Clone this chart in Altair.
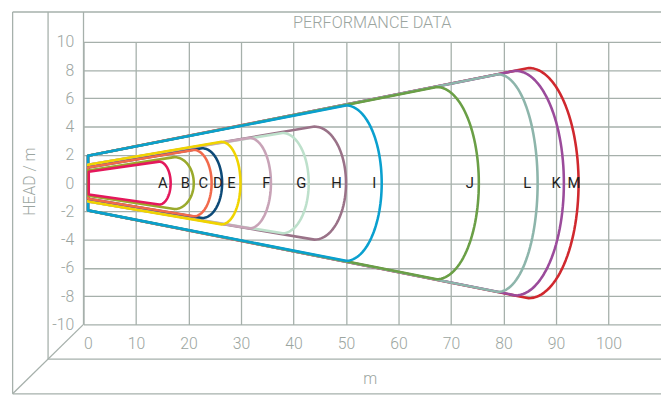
import numpy as np
import pandas as pd
import altair as alt

# ---- data ----
labels = ["A", "B", "C", "D", "E", "F", "G", "H", "I", "J", "K", "L", "M"]
colors = ["#e4185c", "#9aaa2c", "#f26a4c", "#0d4a78", "#f0d400", "#c8a3b7",
          "#bde0cb", "#9a7288", "#0aa0cf", "#6a9f46", "#9b4b9b", "#8db5ab", "#d0282e"]
x_left = [1.0, 0.9, 0.9, 0.9, 0.9, 0.9, 0.9, 0.9, 0.86, 0.86, 0.86, 0.86, 0.86]
a_left = [0.8, 0.9, 1.1, 1.1, 1.3, 1.3, 1.3, 1.3, 1.93, 1.93, 1.93, 1.93, 1.93]
x_arc = [14.4, 17.3, 21.0, 22.6, 26.3, 31.6, 37.9, 44.0, 50.0, 67.3, 82.3, 79.0, 84.8]
h_arc = [1.52, 1.84, 2.35, 2.47, 2.92, 3.2, 3.55, 4.0, 5.5, 6.8, 7.95, 7.7, 8.15]
x_max = [16.6, 21.0, 24.4, 26.4, 29.9, 35.7, 42.9, 50.0, 56.8, 75.3, 91.5, 86.5, 94.3]
label_x = [15.1, 19.4, 22.8, 25.6, 28.2, 34.8, 41.5, 48.2, 55.4, 73.6, 90.0, 84.5, 93.4]

x_ticks = [0, 10, 20, 30, 40, 50, 60, 70, 80, 90, 100]
y_ticks = [-10, -8, -6, -4, -2, 0, 2, 4, 6, 8, 10]

FONT = "Roboto"
GRAY = "#9ba5a0"
LINE = "#a6b0ab"

W, H = 586.6, 287.0
xs = alt.Scale(domain=[0, 110], nice=False, zero=False)
ys = alt.Scale(domain=[-10, 10], nice=False, zero=False)
xaxis = alt.Axis(values=x_ticks, title=None, grid=True, domain=False, ticks=False,
                 labelPadding=11, labelOverlap=False, format="d")
yaxis = alt.Axis(values=y_ticks, title=None, grid=True, domain=False, ticks=False,
                 labelPadding=10, labelOverlap=False, format="d", tickCount=11,
                 labelExpr="replace(datum.label, '\u2212', '-')")


def X():
    return alt.X("x:Q", scale=xs, axis=xaxis)


def Y():
    return alt.Y("y:Q", scale=ys, axis=yaxis)


def curve_points(i):
    xl, a, xe, h, xm = x_left[i], a_left[i], x_arc[i], h_arc[i], x_max[i]
    pts = [(xl, a), (xe, h)]
    for t in np.linspace(0, np.pi, 61)[1:-1]:
        pts.append((xe + (xm - xe) * np.sin(t), h * np.cos(t)))
    pts += [(xe, -h), (xl, -a), (xl, a)]
    return pd.DataFrame({"x": [p[0] for p in pts], "y": [p[1] for p in pts],
                         "i": range(len(pts)), "name": labels[i]})


cscale = alt.Scale(domain=labels, range=colors)

layers = []
order = sorted(range(len(labels)), key=lambda k: -x_max[k])
for k in order:
    layers.append(
        alt.Chart(curve_points(k)).mark_line(strokeWidth=2.6, strokeJoin="round",
                                             strokeCap="round").encode(
            x=X(), y=Y(), order="i:Q",
            color=alt.Color("name:N", scale=cscale, legend=None),
        )
    )

lab_df = pd.DataFrame({"x": label_x, "y": [0.0] * len(labels), "t": labels})
layers.append(
    alt.Chart(lab_df).mark_text(font=FONT, fontSize=15, color="#1e1e1e",
                                baseline="middle", align="center").encode(
        x=X(), y=Y(), text="t:N")
)

one = pd.DataFrame({"d": [0]})


def rule(x1, y1, x2, y2):
    return alt.Chart(one).mark_rule(color=LINE, strokeWidth=1.3).encode(
        x=alt.value(x1), y=alt.value(y1), x2=alt.value(x2), y2=alt.value(y2))


TOP = -30.3
layers += [
    rule(-72, TOP, W, TOP),
    rule(-72, TOP, -72, 357.5),
    rule(-36, TOP, -36, 322.2),
    rule(0, TOP, 0, H),
    rule(0, H, -72, 357.5),
    rule(-36, 322.2, W, 322.2),
    rule(-72, 357.5, W, 357.5),
]


def label(txt, x, y, size, angle=0):
    return alt.Chart(one).mark_text(text=txt, font=FONT, fontSize=size, color=GRAY,
                                    align="center", baseline="middle", fontWeight=300,
                                    angle=angle).encode(x=alt.value(x), y=alt.value(y))


layers += [
    label("PERFORMANCE DATA", 293.3, -18.6, 16.5),
    label("m", 291.3, 342.4, 16),
    label("HEAD / m", -54.7, 142.0, 16, angle=270),
]

chart = alt.layer(*layers).properties(
    width=W, height=H,
    autosize=alt.AutoSizeParams(type="none"),
    padding={"left": 76.7, "top": 31.3, "right": 0, "bottom": 72.0},
).configure_view(stroke=None).configure_axis(
    gridColor=LINE, gridWidth=1.3, labelColor=GRAY, labelFont=FONT, labelFontSize=16,
    labelFontWeight=300, labelOverlap=False,
)

chart.save("out.html", embed_options={"renderer": "svg", "actions": False})
